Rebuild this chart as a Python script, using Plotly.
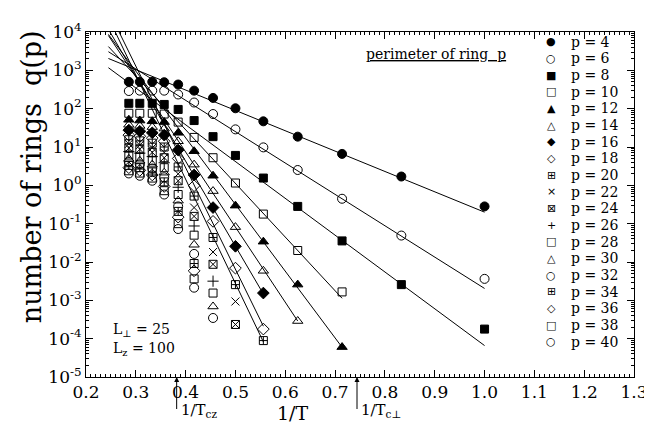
import plotly.graph_objects as go

# ---------------- data ----------------
inv_T = [0.286, 0.308, 0.333, 0.357, 0.385, 0.417, 0.455, 0.500, 0.556, 0.625, 0.714, 0.833, 1.000]

perimeters = [4, 6, 8, 10, 12, 14, 16, 18, 20, 22, 24, 26, 28, 30, 32, 34, 36, 38, 40]

# log10 q(p) at each 1/T (missing tail = no point)
log_q_p4 = [2.70, 2.70, 2.70, 2.69, 2.63, 2.47, 2.28, 2.01, 1.67, 1.27, 0.82, 0.23, -0.55]
log_q_p6 = [2.46, 2.47, 2.47, 2.47, 2.37, 2.16, 1.86, 1.46, 0.99, 0.40, -0.35, -1.31, -2.44]
log_q_p8 = [2.14, 2.14, 2.14, 2.11, 1.98, 1.69, 1.27, 0.78, 0.19, -0.55, -1.45, -2.59, -3.75]
log_q_p10 = [1.88, 1.88, 1.88, 1.86, 1.65, 1.25, 0.72, 0.06, -0.75, -1.70, -2.78]
log_q_p12 = [1.71, 1.69, 1.67, 1.65, 1.37, 0.89, 0.25, -0.53, -1.47, -2.59, -4.22]
log_q_p14 = [1.58, 1.55, 1.52, 1.48, 1.15, 0.54, -0.15, -1.09, -2.23, -3.54]
log_q_p16 = [1.44, 1.41, 1.37, 1.31, 0.92, 0.27, -0.58, -1.59, -2.81]
log_q_p18 = [1.31, 1.28, 1.23, 1.15, 0.70, -0.01, -0.94, -2.16, -3.75]
log_q_p20 = [1.19, 1.16, 1.10, 1.00, 0.48, -0.28, -1.36, -2.59, -4.05]
log_q_p22 = [1.08, 1.05, 0.98, 0.86, 0.30, -0.58, -1.74, -3.03]
log_q_p24 = [0.97, 0.94, 0.86, 0.72, 0.12, -0.81, -2.06, -3.63]
log_q_p26 = [0.88, 0.84, 0.75, 0.59, -0.05, -1.06, -2.50]
log_q_p28 = [0.79, 0.74, 0.64, 0.46, -0.24, -1.30, -2.81]
log_q_p30 = [0.69, 0.64, 0.54, 0.33, -0.40, -1.55, -3.16]
log_q_p32 = [0.61, 0.55, 0.44, 0.21, -0.55, -1.79, -3.46]
log_q_p34 = [0.52, 0.46, 0.35, 0.09, -0.68, -2.04]
log_q_p36 = [0.46, 0.39, 0.27, -0.03, -0.83, -2.23]
log_q_p38 = [0.38, 0.32, 0.19, -0.14, -1.00, -2.44]
log_q_p40 = [0.31, 0.25, 0.12, -0.24, -1.14, -2.67]

series = [log_q_p4, log_q_p6, log_q_p8, log_q_p10, log_q_p12, log_q_p14, log_q_p16,
          log_q_p18, log_q_p20, log_q_p22, log_q_p24, log_q_p26, log_q_p28, log_q_p30,
          log_q_p32, log_q_p34, log_q_p36, log_q_p38, log_q_p40]

# fitted straight lines  log10 q = a + b * (1/T)
line_p = [4, 6, 8, 10, 12, 14, 16, 18, 20]
line_intercept = [4.61, 5.49, 5.42, 7.05, 8.20, 8.71, 9.51, 11.06, 11.04]
line_slope = [-5.31, -8.18, -9.60, -14.0, -17.4, -19.6, -22.2, -26.5, -27.2]
line_x_start = [0.245] * 9
line_x_end = [1.0, 1.0, 1.0, 0.714, 0.714, 0.625, 0.556, 0.556, 0.556]

x_ticks = [0.2, 0.3, 0.4, 0.5, 0.6, 0.7, 0.8, 0.9, 1.0, 1.1, 1.2, 1.3]
y_exponents = [-5, -4, -3, -2, -1, 0, 1, 2, 3, 4]

inv_Tcz = 0.382
inv_Tcperp = 0.744

# ---------------- styles ----------------
symbols = ['circle', 'circle-open', 'square', 'square-open', 'triangle-up', 'triangle-up-open',
           'diamond', 'diamond-open', 'square-cross-open', 'x-thin-open', 'square-x-open',
           'cross-thin-open', 'square-open', 'triangle-up-open', 'circle-open',
           'square-cross-open', 'diamond-open', 'square-open', 'circle-open']
legend_glyphs = ['●', '○', '■', '□', '▲', '△', '◆', '◇', '⊞', '×', '⊠', '+', '□', '△',
                 '○', '⊞', '◇', '□', '○']
sizes = [9, 9, 8, 8, 9, 9, 9, 9, 8, 8, 8, 8, 8, 9, 9, 8, 9, 8, 9]

SERIF = "DejaVu Serif"

fig = go.Figure()

# fit lines
for a, b, x0, x1 in zip(line_intercept, line_slope, line_x_start, line_x_end):
    xs = [x0, x1]
    ys = [10 ** (a + b * x) for x in xs]
    fig.add_trace(go.Scatter(x=xs, y=ys, mode='lines', line=dict(color='black', width=1),
                             showlegend=False, hoverinfo='skip'))

# data points
for p, vals, sym, sz in zip(perimeters, series, symbols, sizes):
    xs, ys = [], []
    for x, v in zip(inv_T, vals):
        if v is not None:
            xs.append(x)
            ys.append(10 ** v)
    fig.add_trace(go.Scatter(
        x=xs, y=ys, mode='markers', name=f'p = {p}', showlegend=False,
        marker=dict(symbol=sym, size=sz, color='black', line=dict(color='black', width=1)),
    ))

minor_y = [m * 10 ** k for k in range(-5, 4) for m in range(2, 10)]

fig.update_xaxes(
    range=[0.2, 1.3], tickmode='array', tickvals=x_ticks,
    ticktext=[f'{v:.1f}' for v in x_ticks],
    ticks='inside', ticklen=7, tickcolor='black', tickwidth=1,
    showline=True, linecolor='black', linewidth=1, mirror='allticks',
    showgrid=False, zeroline=False,
    tickfont=dict(family=SERIF, size=17, color='black'),
    minor=dict(dtick=0.01, tick0=0.2, ticks='inside', ticklen=3, tickcolor='black', showgrid=False),
)
fig.update_yaxes(
    type='log', range=[-5, 4], tickmode='array',
    tickvals=[10 ** e for e in y_exponents],
    ticktext=[f'10<sup>{e}</sup>' for e in y_exponents],
    ticks='inside', ticklen=7, tickcolor='black', tickwidth=1,
    showline=True, linecolor='black', linewidth=1, mirror='allticks',
    showgrid=False, zeroline=False,
    tickfont=dict(family=SERIF, size=17, color='black'),
    minor=dict(tickmode='array', tickvals=minor_y, ticks='inside', ticklen=3,
               tickcolor='black', showgrid=False),
)

annotations = [
    dict(text='number of rings  q(p)', xref='paper', yref='paper', x=-0.098, y=0.58,
         textangle=-90, showarrow=False, font=dict(family=SERIF, size=27, color='black'),
         xanchor='center', yanchor='middle'),
    dict(text='1/T', xref='paper', yref='paper', x=0.376, y=-0.104, showarrow=False,
         font=dict(family=SERIF, size=19, color='black'), xanchor='center', yanchor='middle'),
    dict(text='<u>perimeter of ring  p</u>', xref='paper', yref='paper', x=0.77, y=0.935,
         showarrow=False, font=dict(family=SERIF, size=14, color='black'),
         xanchor='right', yanchor='middle'),
    dict(text='L<sub>⊥</sub> = 25', xref='paper', yref='paper', x=0.045, y=0.136,
         showarrow=False, font=dict(family=SERIF, size=14, color='black'),
         xanchor='left', yanchor='middle'),
    dict(text='L<sub>z</sub> = 100', xref='paper', yref='paper', x=0.045, y=0.082,
         showarrow=False, font=dict(family=SERIF, size=14, color='black'),
         xanchor='left', yanchor='middle'),
]
for xv, lab in [(inv_Tcz, '1/T<sub>cz</sub>'), (inv_Tcperp, '1/T<sub>c⊥</sub>')]:
    annotations.append(dict(text=' ', x=xv, y=0, xref='x', yref='paper', showarrow=True,
                            ax=0, ay=34, arrowhead=2, arrowsize=1, arrowwidth=1,
                            arrowcolor='black', standoff=0, font=dict(size=1)))
    annotations.append(dict(text=lab, x=xv + 0.004, y=-0.096, xref='x', yref='paper',
                            showarrow=False, xanchor='left', yanchor='middle',
                            font=dict(family=SERIF, size=15, color='black')))

# legend key (symbol + label), stacked in the upper-right of the frame
plot_top_px, plot_h_px = 15, 354
for i, (p, g) in enumerate(zip(perimeters, legend_glyphs)):
    y_px = 25 + i * 17.1
    yp = 1 - (y_px - plot_top_px) / plot_h_px
    annotations.append(dict(text=g, xref='paper', yref='paper', x=0.849, y=yp,
                            showarrow=False, xanchor='center', yanchor='middle',
                            font=dict(family='DejaVu Sans', size=11, color='black')))
    annotations.append(dict(text=f'p = {p}', xref='paper', yref='paper', x=0.882, y=yp,
                            showarrow=False, xanchor='left', yanchor='middle',
                            font=dict(family=SERIF, size=14, color='black')))

fig.update_layout(
    width=652, height=423,
    margin=dict(l=78, r=24, t=15, b=54),
    paper_bgcolor='white', plot_bgcolor='white',
    annotations=annotations,
    showlegend=False,
)

fig.write_html("out.html")
